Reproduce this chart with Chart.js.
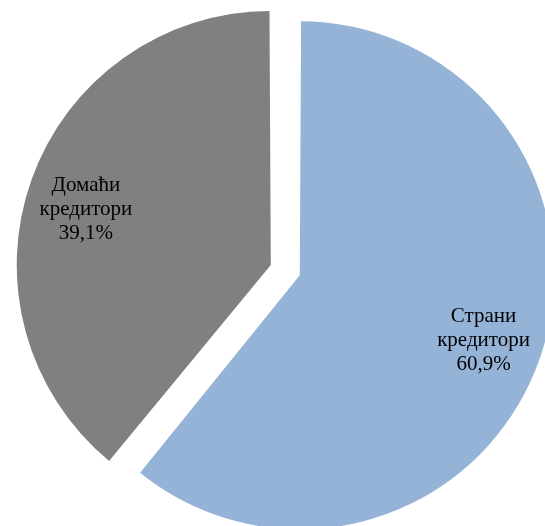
<!DOCTYPE html>
<html>
<head>
<meta charset="utf-8">
<script src="https://cdn.jsdelivr.net/npm/chart.js@4"></script>
<style>
html,body{margin:0;padding:0;background:#fff;}
#wrap{width:545px;height:526px;}
</style>
</head>
<body>
<div id="wrap"><canvas id="c" width="545" height="526"></canvas></div>
<script>
const labels = [["Страни", "кредитори"], ["Домаћи", "кредитори"]];
const values = [60.9, 39.1];
const valueLabels = ["60,9%", "39,1%"];
const colors = ["#95B3D7", "#808080"];
const offsets = [33, 90];

const labelStyle = { radiusFrac: [0.768, 0.76], angleShiftDeg: [0, -2.9] };

const labelPlugin = {
  id: 'sliceLabels',
  afterDatasetsDraw(chart) {
    const ctx = chart.ctx;
    const meta = chart.getDatasetMeta(0);
    ctx.save();
    ctx.font = '21px "Liberation Serif", "Times New Roman", serif';
    ctx.fillStyle = '#000';
    ctx.textAlign = 'center';
    ctx.textBaseline = 'middle';
    meta.data.forEach((arc, i) => {
      const p = arc.getProps(['x','y','startAngle','endAngle','outerRadius','circumference'], true);
      const half = (p.startAngle + p.endAngle) / 2;
      const t = (offsets[i] || 0) / 4;
      const fix = 1 - Math.sin(Math.min(Math.PI, p.circumference));
      const r = p.outerRadius + t * fix;
      const ox = p.x + Math.cos(half) * t;
      const oy = p.y + Math.sin(half) * t;
      const a = half + labelStyle.angleShiftDeg[i] * Math.PI / 180;
      const d = labelStyle.radiusFrac[i] * r;
      const cx = ox + Math.cos(a) * d;
      const cy = oy + Math.sin(a) * d;
      const lines = labels[i].concat([valueLabels[i]]);
      const lh = 24;
      lines.forEach((ln, k) => {
        ctx.fillText(ln, cx, cy + (k - (lines.length - 1) / 2) * lh);
      });
    });
    ctx.restore();
  }
};

new Chart(document.getElementById('c'), {
  type: 'pie',
  data: {
    labels: labels,
    datasets: [{
      data: values,
      backgroundColor: colors,
      borderWidth: 0,
      offset: offsets,
      clip: false
    }]
  },
  options: {
    responsive: false,
    animation: false,
    events: [],
    radius: 245.8,
    layout: { padding: { left: 39, top: 19, right: 0, bottom: 0 } },
    plugins: { legend: { display: false }, tooltip: { enabled: false } }
  },
  plugins: [labelPlugin]
});
</script>
</body>
</html>
